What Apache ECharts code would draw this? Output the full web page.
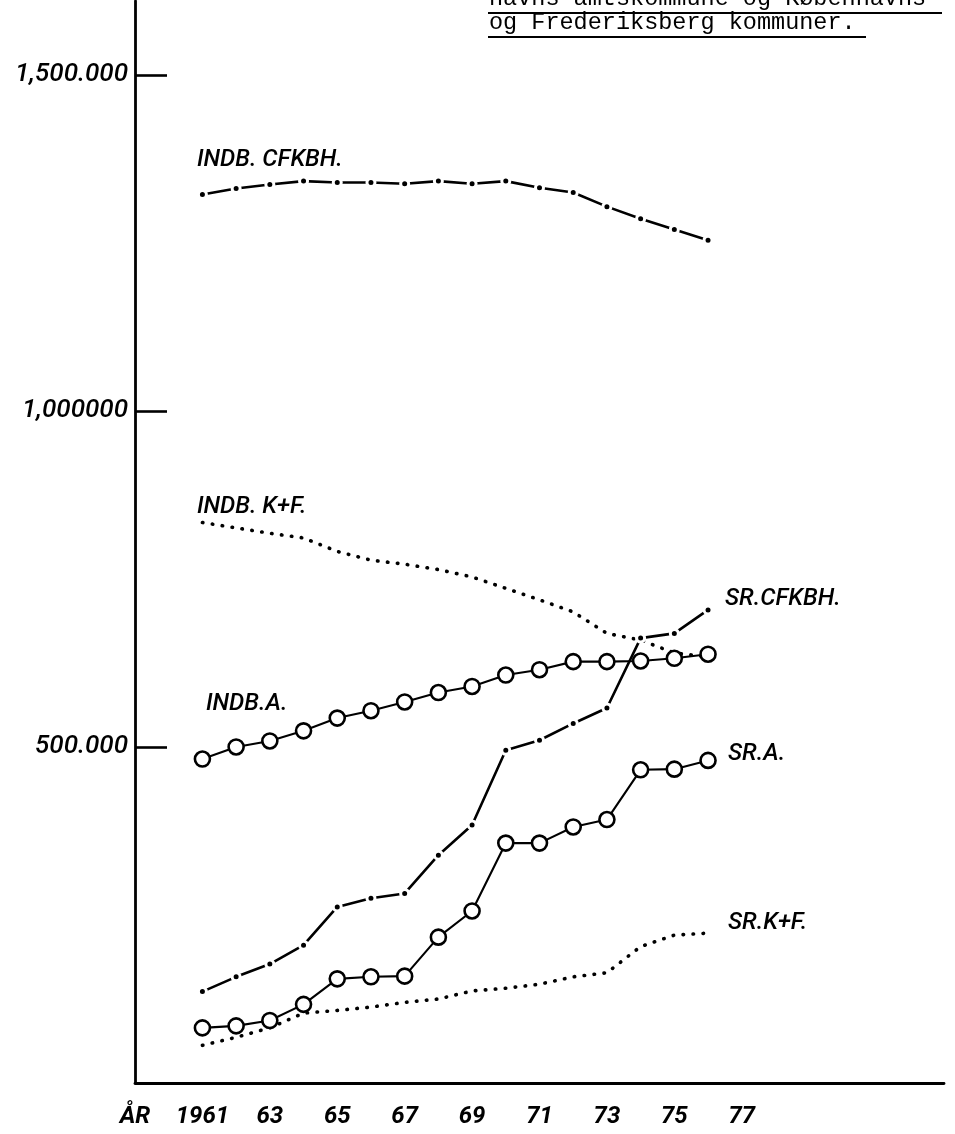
<!DOCTYPE html>
<html>
<head>
<meta charset="utf-8">
<title>Indbyggere og sygehusudgifter</title>
<script src="https://cdn.jsdelivr.net/npm/echarts@6/dist/echarts.min.js"></script>
<style>
  html, body { margin: 0; padding: 0; background: #fff; }
  #chart { width: 955px; height: 1134px; }
</style>
</head>
<body>
<div id="chart"></div>
<script>
// years with data
const years = [1961, 1962, 1963, 1964, 1965, 1966, 1967, 1968, 1969, 1970, 1971, 1972, 1973, 1974, 1975, 1976];

// INDB. = indbyggere, SR. = second series
const indbCfkbh = [1322000, 1331000, 1337000, 1342000, 1340000, 1340000, 1338000, 1342000, 1338000, 1342000, 1332000, 1325000, 1304000, 1286000, 1270000, 1254000];
const indbKF = [834000, 826000, 818000, 811000, 791000, 778000, 772000, 764000, 753000, 736000, 719000, 701000, 669000, 659000, 640000, 634000];
const indbA = [482000, 500000, 509000, 524000, 543000, 554000, 567000, 581000, 590000, 607000, 615000, 627000, 627000, 628000, 632000, 638000];
const srCfkbh = [136000, 158000, 177000, 205000, 262000, 275000, 282000, 339000, 384000, 495000, 510000, 535000, 558000, 662000, 669000, 704000];
const srA = [82000, 85000, 93000, 117000, 155000, 158000, 159000, 217000, 256000, 357000, 357000, 381000, 392000, 466000, 467000, 480000];
const srKF = [56000, 68000, 82000, 104000, 108000, 113000, 120000, 125000, 137000, 141000, 147000, 158000, 164000, 203000, 220000, 223000];

const xTickValues = [1959, 1961, 1963, 1965, 1967, 1969, 1971, 1973, 1975, 1977];
const xTickLabels = ['ÅR', '1961', '63', '65', '67', '69', '71', '73', '75', '77'];
const yTickValues = [500000, 1000000, 1500000];
const yTickLabels = ['500.000', '1,000000', '1,500.000'];

const pairs = vals => years.map((y, i) => [y, vals[i]]);

const chart = echarts.init(document.getElementById('chart'), null, { renderer: 'canvas' });

// solid line broken around each year dot (white ring round the dot)
const dashDot = (name, vals) => ({
  name,
  type: 'line',
  data: pairs(vals),
  symbol: 'circle',
  symbolSize: 8,
  showAllSymbol: true,
  itemStyle: { color: '#000', borderColor: '#fff', borderWidth: 3 },
  lineStyle: { color: '#000', width: 2.6 },
  z: 3,
});

const dotted = (name, vals) => ({
  name,
  type: 'line',
  data: pairs(vals),
  symbol: 'none',
  lineStyle: { color: '#000', width: 3.6, type: [0.5, 9.5], cap: 'round' },
  z: 2,
});

const circles = (name, vals) => ({
  name,
  type: 'line',
  data: pairs(vals),
  symbol: 'circle',
  symbolSize: 15,
  showAllSymbol: true,
  itemStyle: { color: '#fff', borderColor: '#000', borderWidth: 2.6 },
  lineStyle: { color: '#000', width: 2.1 },
  z: 4,
});

const labelFont = { fontFamily: 'Roboto', fontStyle: 'italic', fontWeight: 500, fontSize: 24, fill: '#000', verticalAlign: 'middle' };
const seriesName = (text, x, y) => ({ type: 'text', x, y, style: Object.assign({ text }, labelFont) });
const monoFont = { fontFamily: '"Liberation Mono", "DejaVu Sans Mono", monospace', fontSize: 23.5, fill: '#000', verticalAlign: 'middle' };

chart.setOption({
  animation: false,
  backgroundColor: '#fff',
  grid: { left: 135, right: 11, top: 1, bottom: 51, containLabel: false },
  xAxis: {
    type: 'value',
    min: 1959,
    max: 1983,
    axisLine: { show: true, onZero: false, lineStyle: { color: '#000', width: 2.8 } },
    axisTick: { show: false },
    splitLine: { show: false },
    axisLabel: {
      customValues: xTickValues,
      margin: 22,
      fontFamily: 'Roboto',
      fontStyle: 'italic',
      fontWeight: 'bold',
      fontSize: 24,
      color: '#000',
      formatter: v => xTickLabels[xTickValues.indexOf(v)] ?? '',
    },
  },
  yAxis: {
    type: 'value',
    min: 0,
    max: 1610000,
    axisLine: { show: true, lineStyle: { color: '#000', width: 2.8 } },
    axisTick: { show: true, inside: true, length: 32, customValues: yTickValues, lineStyle: { color: '#000', width: 2.6 } },
    splitLine: { show: false },
    axisLabel: {
      customValues: yTickValues,
      margin: 7,
      fontFamily: 'Roboto',
      fontStyle: 'italic',
      fontWeight: 500,
      fontSize: 26,
      color: '#000',
      formatter: v => yTickLabels[yTickValues.indexOf(v)] ?? '',
    },
  },
  series: [
    dashDot('INDB. CFKBH.', indbCfkbh),
    dotted('INDB. K+F.', indbKF),
    circles('INDB.A.', indbA),
    dashDot('SR.CFKBH.', srCfkbh),
    circles('SR.A.', srA),
    dotted('SR.K+F.', srKF),
  ],
  graphic: [
    // typed heading, cut off at the top edge of the page
    { type: 'text', x: 489, y: -1, style: Object.assign({ text: 'havns amtskommune og Københavns' }, monoFont) },
    { type: 'line', shape: { x1: 488, y1: 13, x2: 942, y2: 13 }, style: { stroke: '#000', lineWidth: 2 } },
    { type: 'text', x: 489, y: 23, style: Object.assign({ text: 'og Frederiksberg kommuner.' }, monoFont) },
    { type: 'line', shape: { x1: 488, y1: 37, x2: 866, y2: 37 }, style: { stroke: '#000', lineWidth: 2 } },
    // series names
    seriesName('INDB. CFKBH.', 197, 160),
    seriesName('INDB. K+F.', 197, 507),
    seriesName('INDB.A.', 206, 704),
    seriesName('SR.CFKBH.', 725, 599),
    seriesName('SR.A.', 728, 754),
    seriesName('SR.K+F.', 728, 923),
  ],
});
</script>
</body>
</html>
